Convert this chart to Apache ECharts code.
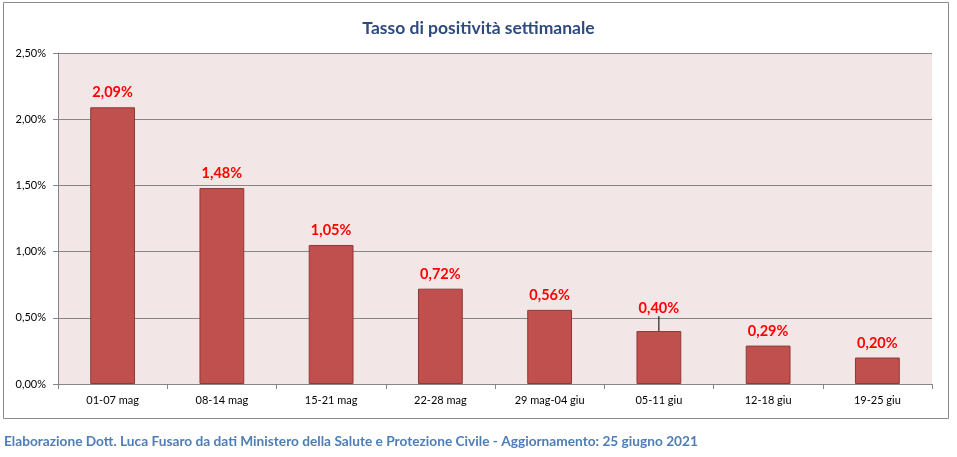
<!DOCTYPE html>
<html><head><meta charset="utf-8">
<script src="https://cdn.jsdelivr.net/npm/echarts@6/dist/echarts.min.js"></script>
<style>html,body{margin:0;padding:0;background:#fff}#c{width:957px;height:457px}</style>
</head><body><div id="c"></div>
<script>
const categories = ['01-07 mag','08-14 mag','15-21 mag','22-28 mag','29 mag-04 giu','05-11 giu','12-18 giu','19-25 giu'];
const positivity = [2.09, 1.48, 1.05, 0.72, 0.56, 0.40, 0.29, 0.20];
const titleText = 'Tasso di positività settimanale';
const footerText = 'Elaborazione Dott. Luca Fusaro da dati Ministero della Salute e Protezione Civile - Aggiornamento: 25 giugno 2021';
const FONT = 'Lato, "Open Sans", sans-serif';
const fmt = v => v.toFixed(2).replace('.', ',') + '%';
const LEADER_INDEX = 5;

const chart = echarts.init(document.getElementById('c'), null, {renderer:'canvas'});
chart.setOption({
  animation:false,
  backgroundColor:'#fff',
  title:{text:titleText,left:'center',top:14,
    textStyle:{fontFamily:FONT,fontSize:17.5,fontWeight:'bold',color:'#2F4B7C'}},
  graphic:[
    {type:'rect',shape:{x:3.5,y:2.5,width:945,height:416},
     style:{fill:'none',stroke:'#8a8a8a',lineWidth:1},silent:true,z:-1},
    {type:'text',left:4,top:435,
     style:{text:footerText,font:'bold 13.7px '+FONT,fill:'#4F7DB5'}}
  ],
  grid:{left:58,right:25,top:53,bottom:73,show:true,backgroundColor:'#F3E6E6',borderWidth:0},
  xAxis:{type:'category',data:categories,
    axisLine:{lineStyle:{color:'#868686'}},
    axisTick:{show:true,length:5,lineStyle:{color:'#868686'}},
    axisLabel:{color:'#000',fontFamily:FONT,fontSize:11,margin:11}},
  yAxis:{type:'value',min:0,max:2.5,interval:0.5,
    axisLine:{show:true,lineStyle:{color:'#868686'}},
    axisTick:{show:true,length:5,lineStyle:{color:'#868686'}},
    splitLine:{lineStyle:{color:'#868686'}},
    axisLabel:{color:'#000',fontFamily:FONT,fontSize:11,margin:12,formatter:v=>fmt(v)}},
  series:[{type:'bar',
    data:positivity.map((v,i)=>({value:v,labelLine:{show:i===LEADER_INDEX,lineStyle:{color:'#000',width:1}}})),
    barWidth:'41%',
    itemStyle:{color:'#C0504D',borderColor:'#8C3A38',borderWidth:1},
    label:{show:true,position:'top',distance:7,formatter:p=>fmt(p.value),
      fontFamily:FONT,fontSize:14.5,fontWeight:'bold',color:'#FF0000'},
    labelLine:{show:false},
    labelLayout:function(p){ if(p.dataIndex===LEADER_INDEX) return {dy:-8}; return {}; }
  }]
});
</script></body></html>
